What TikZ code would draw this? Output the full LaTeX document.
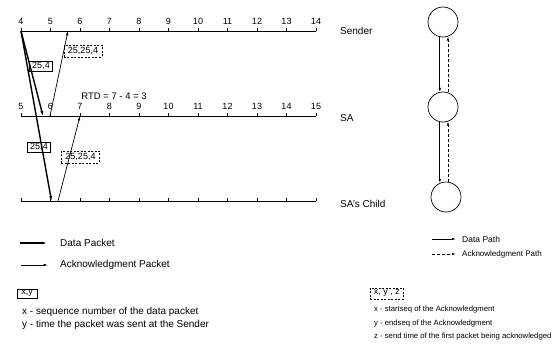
\documentclass[tikz,border=0pt]{standalone}
\usepackage{fontspec}
\setmainfont{Liberation Sans}
\usetikzlibrary{arrows.meta,calc}
\begin{document}
\begin{tikzpicture}[x=1pt,y=-1pt,
  axisline/.style={line width=0.8pt},
  datapk/.style={line width=1.4pt,-{Latex[length=5pt,width=3pt]}},
  ackpk/.style={line width=0.7pt,-{Latex[length=4.5pt,width=2.6pt]}},
  numlbl/.style={font=\fontsize{9}{10}\selectfont,inner sep=0pt,anchor=south},
  axlbl/.style={font=\fontsize{10}{12}\selectfont,anchor=west,inner sep=0pt},
  leglbl/.style={font=\fontsize{10}{12}\selectfont,anchor=west,inner sep=0pt},
  smlbl/.style={font=\fontsize{8}{10}\selectfont,anchor=west,inner sep=0pt},
  sbox/.style={draw,line width=0.7pt,inner xsep=2.5pt,inner ysep=1.2pt,font=\fontsize{9}{10}\selectfont},
  dbox/.style={draw,line width=0.7pt,dash pattern=on 2pt off 1.5pt,inner xsep=4pt,inner ysep=2.2pt,font=\fontsize{9}{10}\selectfont},
  nodecirc/.style={circle,draw,line width=0.7pt,minimum size=30pt,inner sep=0pt},
  datapath/.style={line width=0.7pt,-{Latex[length=4pt,width=2.4pt]}},
  ackpath/.style={line width=0.7pt,dash pattern=on 3pt off 2pt,-{Latex[length=4pt,width=2.4pt]}}
]
\useasboundingbox (0,0) rectangle (552,348);

% ---- Sender axis
\coordinate (sA) at (21,31);
\coordinate (sB) at (316,31);
\draw[axisline] (sA) -- (sB);
\foreach \i in {0,...,10}{
  \draw[axisline] (21+29.5*\i,31) -- ++(0,-3.5) node[numlbl,yshift=3pt] (sn\i) {\the\numexpr\i+4\relax};
}
\node[axlbl] (sender) at (340,31) {Sender};

% ---- SA axis
\coordinate (aA) at (21,116);
\coordinate (aB) at (316,116);
\draw[axisline] (aA) -- (aB);
\foreach \i in {0,...,10}{
  \draw[axisline] (21+29.5*\i,116) -- ++(0,-3.5) node[numlbl,yshift=3pt] (an\i) {\the\numexpr\i+5\relax};
}
\node[axlbl] (sa) at (340,118) {SA};
\node[font=\fontsize{9.5}{11}\selectfont,inner sep=0pt] (rtd) at (114,96) {RTD = 7 - 4 = 3};

% ---- SA's Child axis
\coordinate (cA) at (21,201);
\coordinate (cB) at (316,201);
\draw[axisline] (cA) -- (cB);
\foreach \i in {0,...,10}{
  \draw[axisline] (21+29.5*\i,201) -- ++(0,-3.5) coordinate (ct\i);
}
\node[axlbl] (sachild) at (340,204) {SA's Child};

% ---- packets
\coordinate (d0) at (21,31);
\coordinate (d1) at (43,116);
\coordinate (d2) at (51.5,201);
\draw[datapk] (d0) -- (d1);
\draw[datapk] (d0) -- (d2);
\coordinate (k0) at (50,116);
\coordinate (k1) at (68,31);
\draw[ackpk] (k0) -- (k1);
\coordinate (k2) at (58,201);
\coordinate (k3) at (80,116);
\draw[ackpk] (k2) -- (k3);

\node[sbox] (b1) at (41,66) {25,4};
\node[dbox] (b2) at (83,51) {25,25,4};
\node[sbox] (b3) at (39,147) {25,4};
\node[dbox] (b4) at (80.5,157) {25,25,4};

% ---- right graph
\node[nodecirc] (c1) at (443,22) {};
\node[nodecirc] (c2) at (443,107) {};
\node[nodecirc] (c3) at (446,197) {};
\draw[datapath] (c1.258) -- (c1.258 |- c2.102);
\draw[ackpath] (c2.71) -- (c2.71 |- c1.289);
\draw[datapath] (c2.258) -- ($(c2.258 |- c3.north)+(0,1.4)$);
\draw[ackpath] ($(c2.289 |- c3.north)+(0,0.3)$) -- (c2.289);

% ---- legends
\coordinate (l1a) at (20,243);
\coordinate (l1b) at (47,243);
\draw[datapk] (l1a) -- (l1b);
\node[leglbl] (l1t) at (60,243) {Data Packet};
\coordinate (l2a) at (21,265);
\coordinate (l2b) at (48,265);
\draw[ackpk] (l2a) -- (l2b);
\node[leglbl] (l2t) at (60,265) {Acknowledgment Packet};

\coordinate (r1a) at (432,239);
\coordinate (r1b) at (456,239);
\draw[datapath] (r1a) -- (r1b);
\node[smlbl,font=\fontsize{8.5}{10}\selectfont] (r1t) at (462,239) {Data Path};
\coordinate (r2a) at (432,254);
\coordinate (r2b) at (456,254);
\draw[ackpath] (r2a) -- (r2b);
\node[smlbl] (r2t) at (462,254) {Acknowledgment Path};

\node[sbox,anchor=west,inner xsep=4pt] (kx) at (17,293.5) {x,y};
\node[leglbl] (kx1) at (22,312) {x - sequence number of the data packet};
\node[leglbl] (kx2) at (22,325) {y - time the packet was sent at the Sender};

\node[dbox,anchor=west,inner xsep=3.5pt] (ky) at (370,293.5) {x, y , z};
\node[smlbl,font=\fontsize{7.7}{10}\selectfont] (ky1) at (374,310) {x - startseq of the Acknowledgment};
\node[smlbl,font=\fontsize{7.7}{10}\selectfont] (ky2) at (374,323.5) {y - endseq of the Acknowledgment};
\node[smlbl,font=\fontsize{7.7}{10}\selectfont] (ky3) at (374,337) {z - send time of the first packet being acknowledged};
\end{tikzpicture}
\end{document}
